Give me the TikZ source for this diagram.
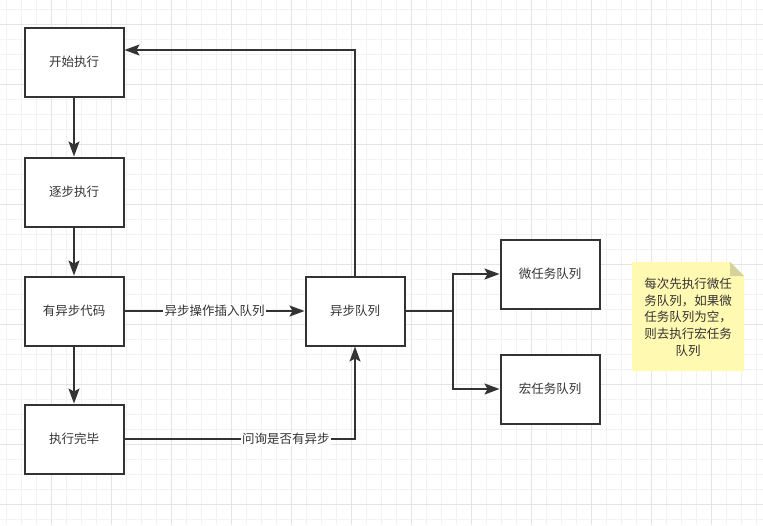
\documentclass[tikz,border=0pt]{standalone}
\usepackage{fontspec}
\newfontfamily\cjk{Noto Sans CJK SC}
\usetikzlibrary{arrows.meta,positioning}
\definecolor{gridminor}{HTML}{F2F2F2}
\definecolor{gridmajor}{HTML}{E4E4E4}
\definecolor{linedark}{HTML}{333333}
\definecolor{notefill}{HTML}{FFF9B2}
\definecolor{notefold}{HTML}{D6D39A}

\begin{document}
\begin{tikzpicture}[
    x=1pt, y=-1pt,
    every node/.style={font=\cjk\fontsize{12.5}{16.7}\selectfont, text=linedark},
    box/.style={rectangle, draw=linedark, fill=white, line width=2pt, minimum width=99pt, minimum height=69pt, inner sep=0pt},
    lbl/.style={fill=white, inner sep=1.5pt},
    arr/.style={-{Stealth[length=15pt,width=11pt,inset=3pt]}, line width=2pt, draw=linedark},
    plain/.style={line width=2pt, draw=linedark}
]
    \useasboundingbox (0,0) rectangle (763,525);

    % Grid
    \foreach \gx in {6.7,21.7,...,763} \draw[gridminor, line width=0.8pt] (\gx,0) -- (\gx,525);
    \foreach \gy in {9.3,24.3,...,525} \draw[gridminor, line width=0.8pt] (0,\gy) -- (763,\gy);
    \foreach \gx in {51.7,111.7,...,763} \draw[gridmajor, line width=0.8pt] (\gx,0) -- (\gx,525);
    \foreach \gy in {24.3,84.3,...,525} \draw[gridmajor, line width=0.8pt] (0,\gy) -- (763,\gy);

    % Main flow
    \node (start) [box] at (74,62) {开始执行};
    \node (step) [box, below=59pt of start] {逐步执行};
    \node (code) [box, below=48pt of step] {有异步代码};
    \node (done) [box, below=57pt of code] {执行完毕};

    % Queues
    \node (queue) [box, right=180pt of code] {异步队列};
    \node (micro) [box] at (550,274) {微任务队列};
    \node (macro) [box] at (550,389) {宏任务队列};

    % Note
    \fill[notefill] (632,262) -- (730,262) -- (744,276) -- (744,371) -- (632,371) -- cycle;
    \fill[notefold] (730,262) -- (744,276) -- (730,276) -- cycle;
    \node (notetext) [align=center] at (688,317) {每次先执行微任\\务队列，如果微\\任务队列为空，\\则去执行宏任务\\队列};

    % Connectors
    \draw [arr] (start) -- (step);
    \draw [arr] (step) -- (code);
    \draw [arr] (code) -- (done);
    \draw [arr] (code) -- (queue) node[lbl, midway] {异步操作插入队列};
    \draw [arr] (done) -| (queue) node[lbl, pos=0.35] {问询是否有异步};
    \draw [arr] (queue.north) |- ([yshift=12pt]start.east);
    \draw [plain] (queue.east) -- ++(47,0) coordinate (fork);
    \draw [arr] (fork) |- (micro);
    \draw [arr] (fork) |- (macro);
\end{tikzpicture}
\end{document}
